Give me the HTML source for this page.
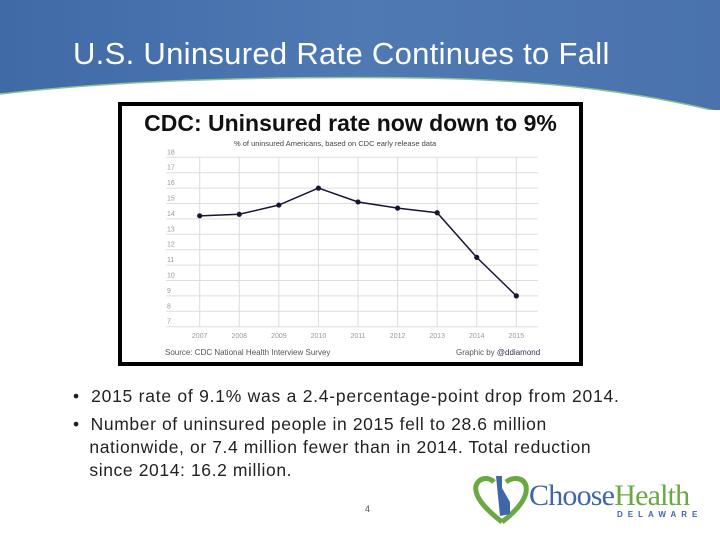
<!DOCTYPE html>
<html><head><meta charset="utf-8"><style>
body{margin:0;width:720px;height:540px;overflow:hidden;background:#fff;font-family:"Liberation Sans",sans-serif;position:relative}
.abs{position:absolute}
</style></head><body>
<svg class="abs" style="left:0;top:0" width="720" height="110">
<defs><linearGradient id="hg" x1="0" x2="1"><stop offset="0" stop-color="#3f6aa6"/><stop offset="0.5" stop-color="#4f79b3"/><stop offset="1" stop-color="#4a73ad"/></linearGradient></defs>
<path d="M0 0H720V112C650 95 560 80 420 78C260 76 120 80 0 94Z" fill="url(#hg)"/>
<path d="M0 94C120 80 260 76 420 78C560 80 650 95 720 112" fill="none" stroke="#8fbf8a" stroke-width="1.5"/>
</svg>
<div class="abs" style="left:73px;top:36px;font-size:31px;letter-spacing:0.3px;color:#fff;white-space:nowrap">U.S. Uninsured Rate Continues to Fall</div>
<div class="abs" style="left:118px;top:102px;width:457px;height:256px;border:4px solid #000;background:#fff"></div>
<div class="abs" style="left:118px;top:110px;width:465px;text-align:center;font-size:23px;font-weight:bold;color:#111;white-space:nowrap">CDC: Uninsured rate now down to 9%</div>
<div class="abs" style="left:234px;top:139px;font-size:7.5px;color:#444">% of uninsured Americans, based on CDC early release data</div>
<div class="abs" style="left:165px;top:348px;font-size:8px;color:#555">Source: CDC National Health Interview Survey</div>
<div class="abs" style="left:456px;top:348px;font-size:8px;color:#555">Graphic by <span style="color:#335">@ddiamond</span></div>
<svg id="chart" class="abs" style="left:0;top:0" width="720" height="540"></svg>
<div class="abs" style="left:73px;top:386px;font-size:17.5px;letter-spacing:0.75px;color:#222;white-space:nowrap">•&nbsp; 2015 rate of 9.1% was a 2.4-percentage-point drop from 2014.</div>
<div class="abs" style="left:73px;top:413px;font-size:17.5px;letter-spacing:0.6px;color:#222;line-height:23px;white-space:nowrap">•&nbsp; Number of uninsured people in 2015 fell to 28.6 million<br>&nbsp;&nbsp;&nbsp;nationwide, or 7.4 million fewer than in 2014. Total reduction<br>&nbsp;&nbsp;&nbsp;since 2014: 16.2 million.</div>
<div class="abs" style="left:365px;top:504px;font-size:9px;color:#555">4</div>
<svg class="abs" style="left:472px;top:474px" width="60" height="52">
<path d="M30 48C12 34 2 22 4 12C6 4 16 2 22 8" fill="none" stroke="#6aa842" stroke-width="5"/>
<path d="M30 48C48 34 56 22 54 12C52 4 42 2 34 8" fill="none" stroke="#6aa842" stroke-width="5"/>
<path d="M24 2L30 2L30 14L38 28L38 40L28 42Z" fill="#3f67a8"/>
</svg>
<div class="abs" style="left:529px;top:479px;font-family:'Liberation Serif',serif;font-size:30px;letter-spacing:-0.8px;color:#3f67a8;white-space:nowrap">Choose<span style="color:#6aa842">Health</span></div>
<div class="abs" style="left:617px;top:510px;font-size:8px;font-weight:bold;letter-spacing:5px;color:#3f67a8">DELAWARE</div>
<script>
const years=["2007","2008","2009","2010","2011","2012","2013","2014","2015"];
const rates=[14.2,14.3,14.9,16.0,15.1,14.7,14.4,11.5,9.0];
const yTicks=[7,8,9,10,11,12,13,14,15,16,17,18];
const svg=document.getElementById('chart');
const NS='http://www.w3.org/2000/svg';
const x=i=>199.7+i*39.58;
const y=v=>326.7-(v-7)*15.4;
function mk(t,a){const e=document.createElementNS(NS,t);for(const k in a)e.setAttribute(k,a[k]);svg.appendChild(e);return e;}
yTicks.forEach(v=>{
 const l=mk('line',{x1:166,x2:538,y1:y(v),y2:y(v),stroke:'#ddd','stroke-width':1});
 
 
 const t=mk('text',{x:167,y:y(v)-3,'font-size':7,fill:'#999','font-family':'Liberation Sans'});
 t.textContent=v;
 
 
});
years.forEach((yr,i)=>{
 const l=mk('line',{x1:x(i),x2:x(i),y1:y(18),y2:y(7),stroke:'#ddd','stroke-width':1});
 
 
 const t=mk('text',{x:x(i),y:338,'font-size':7,fill:'#999','text-anchor':'middle','font-family':'Liberation Sans'});
 t.textContent=yr;
 
 
});
const p=mk('polyline',{points:rates.map((v,i)=>x(i)+','+y(v)).join(' '),fill:'none',stroke:'#1a1433','stroke-width':1.5});


rates.forEach((v,i)=>{
 const c=mk('circle',{cx:x(i),cy:y(v),r:2.6,fill:'#1a1433'});
 
 
});
</script>
</body></html>
